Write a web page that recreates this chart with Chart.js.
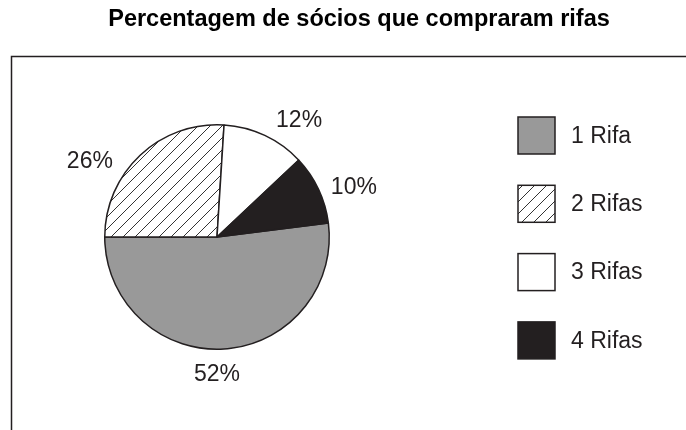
<!DOCTYPE html>
<html>
<head>
<meta charset="utf-8">
<script src="https://cdn.jsdelivr.net/npm/chart.js@4.4.1/dist/chart.umd.min.js"></script>
<style>
  html, body { margin: 0; padding: 0; background: #fff; }
  #wrap { width: 686px; height: 430px; position: relative; }
</style>
</head>
<body>
<div id="wrap"><canvas id="chart"></canvas></div>
<script>
// data
const chartTitle = 'Percentagem de sócios que compraram rifas';
const categories = ['1 Rifa', '2 Rifas', '3 Rifas', '4 Rifas'];
const percentages = [52, 26, 12, 10];
const percentLabels = ['52%', '26%', '12%', '10%'];

const INK = '#231f20';
const FONT = '"Liberation Sans", Arial, sans-serif';

// diagonal hatch for "2 Rifas"
function makeHatch() {
    const c = document.createElement('canvas');
    c.width = 12;
    c.height = 12;
    const g = c.getContext('2d');
    g.fillStyle = '#fff';
    g.fillRect(0, 0, 12, 12);
    g.strokeStyle = '#333';
    g.lineWidth = 1;
    g.beginPath();
    g.moveTo(-1, 13); g.lineTo(13, -1);
    g.moveTo(-7, 7); g.lineTo(7, -7);
    g.moveTo(5, 19); g.lineTo(19, 5);
    g.stroke();
    return g.createPattern(c, 'repeat');
}

const fills = ['#999999', makeHatch(), '#ffffff', INK];

// frame, title, outside labels and legend
const decorations = {
    id: 'decorations',
    beforeDraw(chart) {
        const ctx = chart.ctx;
        ctx.save();
        ctx.strokeStyle = INK;
        ctx.lineWidth = 1.5;
        ctx.beginPath();
        ctx.moveTo(11.5, 430);
        ctx.lineTo(11.5, 56.5);
        ctx.lineTo(686, 56.5);
        ctx.stroke();

        ctx.fillStyle = '#000';
        ctx.font = 'bold 23.5px ' + FONT;
        ctx.textAlign = 'center';
        ctx.textBaseline = 'alphabetic';
        ctx.fillText(chartTitle, 359, 26);
        ctx.restore();
    },
    afterDraw(chart) {
        const ctx = chart.ctx;
        const arc = chart.getDatasetMeta(0).data[0];
        const cx = arc.x, cy = arc.y, r = arc.outerRadius;
        // label spots: [angle in degrees, distance as share of the radius]
        const spots = [[90, 1.215], [210.9, 1.32], [305, 1.275], [339.7, 1.30]];

        ctx.save();
        ctx.fillStyle = INK;
        ctx.font = '23px ' + FONT;
        ctx.textAlign = 'center';
        ctx.textBaseline = 'middle';
        percentLabels.forEach((txt, i) => {
            const a = spots[i][0] * Math.PI / 180;
            const d = spots[i][1] * r;
            ctx.fillText(txt, cx + Math.cos(a) * d, cy + Math.sin(a) * d + 1);
        });

        // legend
        const ds = chart.data.datasets[0];
        const boxX = 518, boxTop = 117, boxSize = 37, step = 68.3;
        ctx.textAlign = 'left';
        chart.data.labels.forEach((lab, i) => {
            const y = boxTop + i * step;
            ctx.fillStyle = ds.backgroundColor[i];
            ctx.fillRect(boxX, y, boxSize, boxSize);
            ctx.strokeStyle = INK;
            ctx.lineWidth = 1.5;
            ctx.strokeRect(boxX, y, boxSize, boxSize);
            ctx.fillStyle = INK;
            ctx.fillText(lab, 571, y + boxSize / 2 + 1);
        });
        ctx.restore();
    }
};

new Chart(document.getElementById('chart'), {
    type: 'pie',
    data: {
        labels: categories,
        datasets: [{
            data: percentages,
            backgroundColor: fills,
            borderColor: INK,
            borderWidth: 1.5,
            hoverOffset: 0
        }]
    },
    options: {
        responsive: true,
        maintainAspectRatio: false,
        animation: false,
        rotation: 82.8,
        layout: { padding: { left: 104, right: 356, top: 124, bottom: 80 } },
        plugins: {
            legend: { display: false },
            title: { display: false },
            tooltip: { enabled: false }
        }
    },
    plugins: [decorations]
});
</script>
</body>
</html>
